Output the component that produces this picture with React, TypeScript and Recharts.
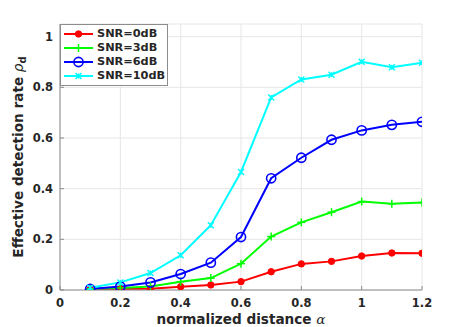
import React from 'react';
import { LineChart, Line, XAxis, YAxis, CartesianGrid, Legend } from 'recharts';

// normalized distance alpha
const alphas = [0.1, 0.2, 0.3, 0.4, 0.5, 0.6, 0.7, 0.8, 0.9, 1.0, 1.1, 1.2];

// effective detection rate per SNR
const snr0 = [0.003, 0.004, 0.005, 0.013, 0.02, 0.033, 0.072, 0.103, 0.113, 0.134, 0.146, 0.145];
const snr3 = [0.005, 0.008, 0.014, 0.033, 0.047, 0.104, 0.211, 0.267, 0.307, 0.349, 0.34, 0.345];
const snr6 = [0.004, 0.014, 0.03, 0.063, 0.108, 0.209, 0.441, 0.522, 0.593, 0.63, 0.652, 0.664];
const snr10 = [0.009, 0.03, 0.067, 0.137, 0.256, 0.466, 0.76, 0.831, 0.85, 0.901, 0.879, 0.897];

const xTicks = [0, 0.2, 0.4, 0.6, 0.8, 1, 1.2];
const yTicks = [0, 0.2, 0.4, 0.6, 0.8, 1];

const series = [
  { key: 'snr0', name: 'SNR=0dB', color: '#ff0000', marker: 'dot', values: snr0 },
  { key: 'snr3', name: 'SNR=3dB', color: '#00ff00', marker: 'plus', values: snr3 },
  { key: 'snr6', name: 'SNR=6dB', color: '#0000ff', marker: 'circle', values: snr6 },
  { key: 'snr10', name: 'SNR=10dB', color: '#00ffff', marker: 'cross', values: snr10 },
];

const data = alphas.map((a, i) => {
  const row: Record<string, number> = { alpha: a };
  series.forEach(s => { row[s.key] = s.values[i]; });
  return row;
});

const FONT = '"DejaVu Sans", sans-serif';
const AXIS = '#8c8c8c';
const TEXT = '#262626';

const marker = (kind: string, cx: number, cy: number, color: string, k?: string | number) => {
  if (kind === 'dot') return <circle key={k} cx={cx} cy={cy} r={3.2} fill={color} stroke={color} />;
  if (kind === 'plus') {
    return (
      <g key={k} stroke={color} strokeWidth={1.5}>
        <line x1={cx - 4} y1={cy} x2={cx + 4} y2={cy} />
        <line x1={cx} y1={cy - 4} x2={cx} y2={cy + 4} />
      </g>
    );
  }
  if (kind === 'circle') return <circle key={k} cx={cx} cy={cy} r={4.6} fill="none" stroke={color} strokeWidth={1.6} />;
  return (
    <g key={k} stroke={color} strokeWidth={1.4}>
      <line x1={cx - 3} y1={cy - 3} x2={cx + 3} y2={cy + 3} />
      <line x1={cx - 3} y1={cy + 3} x2={cx + 3} y2={cy - 3} />
      <line x1={cx} y1={cy - 2.5} x2={cx} y2={cy + 2.5} />
    </g>
  );
};

const LegendBox = () => (
  <div style={{ background: '#fff', border: `1px solid ${AXIS}`, width: 106, padding: '2px 0', fontFamily: FONT, fontWeight: 'bold', fontSize: 11.3, color: TEXT }}>
    {series.map(s => (
      <div key={s.key} style={{ display: 'flex', alignItems: 'center', height: 14 }}>
        <svg width={34} height={14} style={{ flex: 'none' }}>
          <line x1={3} y1={7} x2={32} y2={7} stroke={s.color} strokeWidth={2} />
          {marker(s.marker, 17.5, 7, s.color)}
        </svg>
        <span style={{ marginLeft: 2, lineHeight: '14px' }}>{s.name}</span>
      </div>
    ))}
  </div>
);

const YLabel = (props: any) => {
  const vb = props.viewBox || {};
  const x = 18;
  const y = vb.y + vb.height / 2;
  return (
    <text x={x} y={y} transform={`rotate(-90 ${x} ${y})`} textAnchor="middle" dominantBaseline="central"
      fontFamily={FONT} fontWeight="bold" fontSize={13.6} fill={TEXT}>
      Effective detection rate <tspan fontStyle="italic" fontWeight="normal">ρ</tspan><tspan fontSize={10} dy={4}>d</tspan>
    </text>
  );
};

const XLabel = (props: any) => {
  const vb = props.viewBox || {};
  const x = vb.x + vb.width / 2;
  return (
    <text x={x} y={324} textAnchor="middle" fontFamily={FONT} fontWeight="bold" fontSize={13.6} fill={TEXT}>
      normalized distance <tspan fontStyle="italic" fontWeight="normal" fontFamily="'DejaVu Serif', serif">α</tspan>
    </text>
  );
};

const fmt = (v: number) => String(Math.round(v * 10) / 10);

export default function App() {
  const tickStyle = { fontFamily: FONT, fontWeight: 'bold', fontSize: 11.5, fill: TEXT };
  return (
    <div style={{ position: 'absolute', left: 0, top: 0, width: 466, height: 327, background: '#fff' }}>
      <LineChart width={466} height={327} data={data} margin={{ top: 24, right: 44, bottom: 0, left: 0 }}>
        <CartesianGrid stroke="#e6e6e6" strokeWidth={1} />
        <XAxis dataKey="alpha" type="number" domain={[0, 1.2]} ticks={xTicks} tickFormatter={fmt}
          height={37} stroke={AXIS} tickSize={-4} tickMargin={13} tick={tickStyle} allowDataOverflow
          label={<XLabel />} />
        <XAxis xAxisId="top" orientation="top" dataKey="alpha" type="number" domain={[0, 1.2]} ticks={xTicks}
          height={0} stroke={AXIS} tickSize={-4} tick={false} allowDataOverflow />
        <YAxis type="number" domain={[0, 1.05]} ticks={yTicks} tickFormatter={fmt} width={60}
          stroke={AXIS} tickSize={-4} tickMargin={11} tick={tickStyle} allowDataOverflow
          label={<YLabel />} />
        <YAxis yAxisId="right" orientation="right" type="number" domain={[0, 1.05]} ticks={yTicks}
          width={0} stroke={AXIS} tickSize={-4} tick={false} allowDataOverflow />
        <Legend layout="vertical" align="center" verticalAlign="middle" content={<LegendBox />}
          wrapperStyle={{ left: 60, top: 24, width: 'auto', height: 'auto' }} />
        {series.map(s => (
          <Line key={s.key} dataKey={s.key} name={s.name} stroke={s.color} strokeWidth={2}
            isAnimationActive={false}
            dot={(p: any) => marker(s.marker, p.cx, p.cy, s.color, p.index)}
            activeDot={false} />
        ))}
      </LineChart>
    </div>
  );
}
